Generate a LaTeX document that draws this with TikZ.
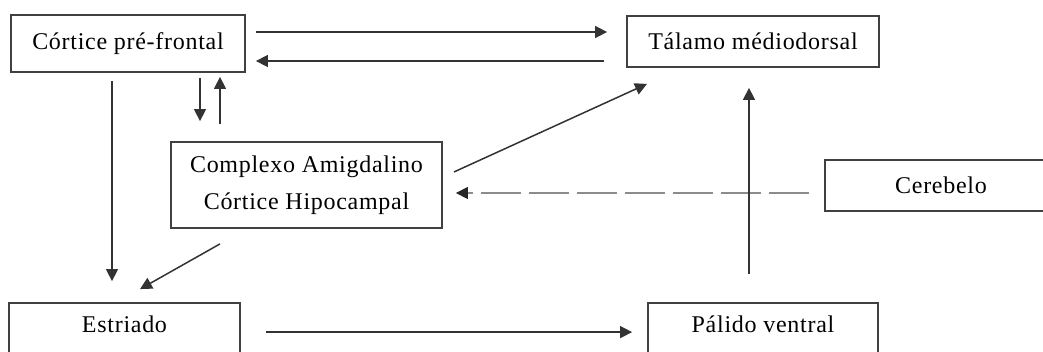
\documentclass[tikz,border=0pt]{standalone}
\usepackage{fontspec}
\setmainfont[LetterSpace=3]{Liberation Serif}
\usetikzlibrary{arrows.meta,calc}
\begin{document}
\begin{tikzpicture}[x=1pt,y=1pt,
  box/.style={draw=black!75, line width=1.8pt, rectangle, inner sep=0pt, fill=white,
    font=\fontsize{24}{37}\selectfont},
  conn/.style={draw=black!80, line width=1.5pt, -{Triangle[length=12pt,width=12pt]}},
  dconn/.style={draw=black!45, line width=1.3pt, dash pattern=on 40pt off 8pt,
    -{Triangle[length=12pt,width=12pt,color=black!85]}}]
\useasboundingbox (0,0) rectangle (1043,-351);
\clip (0,0) rectangle (1043,-351);

\node[box, minimum width=234pt, minimum height=57pt] (cpf) at (128,-43.5) {Córtice pré-frontal};
\node[box, minimum width=252pt, minimum height=51pt] (tal) at (753,-41.5) {Tálamo médiodorsal};
\node[box, align=center, minimum width=271pt, minimum height=86pt] (cplx) at (306.5,-185) {Complexo Amigdalino\\Córtice Hipocampal};
\node[box, minimum width=232pt, minimum height=51pt] (cer) at (941,-185.5) {Cerebelo};
\node[box, minimum width=231pt, text height=29pt, text depth=60pt, anchor=base] (estr) at (124.5,-332) {Estriado};
\node[box, minimum width=230pt, text height=29pt, text depth=60pt, anchor=base] (pal) at (763,-332) {Pálido ventral};

% Cortex <-> Thalamus
\draw[conn] ([shift={(10,11.5)}]cpf.east) -- ([shift={(-19,9.5)}]tal.west);
\draw[conn] ([shift={(-22,-19.5)}]tal.west) -- ([shift={(10,-17.5)}]cpf.east);
% Cortex <-> Complexo
\draw[conn] ([shift={(72,-5)}]cpf.south) -- ([shift={(-106.5,20)}]cplx.north);
\draw[conn] ([shift={(-86.5,17)}]cplx.north) -- ([shift={(92,-4)}]cpf.south);
% Cortex -> Estriado
\draw[conn] ([shift={(-16,-8)}]cpf.south) -- ([shift={(-12.5,21)}]estr.north);
% Complexo -> Estriado
\draw[conn] ([shift={(-86.5,-15)}]cplx.south) -- ([shift={(15.5,13)}]estr.north);
% Complexo -> Thalamus
\draw[conn] ([shift={(11,13)}]cplx.east) -- ([shift={(-106,-16)}]tal.south);
% Cerebelo -> Complexo (dashed)
\draw[dconn] ([shift={(-15,-7.5)}]cer.west) -- ([shift={(13,-8)}]cplx.east);
% Palido -> Thalamus
\draw[conn] ([shift={(-14,28)}]pal.north) -- ([shift={(-4,-20)}]tal.south);
% Estriado -> Palido
\draw[conn] ([shift={(25,-30)}]estr.north east) -- ([shift={(-15,-30)}]pal.north west);
\end{tikzpicture}
\end{document}
